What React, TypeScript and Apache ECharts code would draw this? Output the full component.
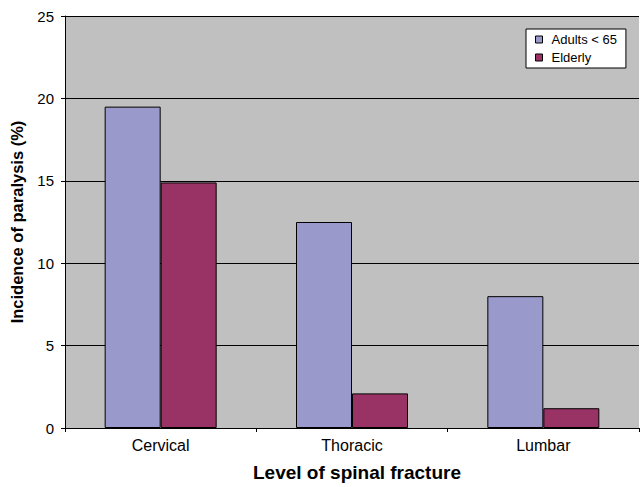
import React, { useEffect, useRef } from "react";
import * as echarts from "echarts";

const categories = ["Cervical", "Thoracic", "Lumbar"];
const adults = [19.5, 12.5, 8.0];
const elderly = [14.9, 2.1, 1.2];
const seriesNames = ["Adults < 65", "Elderly"];

export default function App() {
  const ref = useRef<HTMLDivElement>(null);
  useEffect(() => {
    const chart = echarts.init(ref.current!, null, { renderer: "svg" });
    const font = "'Liberation Sans', Arial, sans-serif";
    chart.setOption({
      animation: false,
      textStyle: { fontFamily: font },
      grid: { left: 65, right: 1, top: 16, bottom: 53, containLabel: false, show: true, backgroundColor: "#c0c0c0", borderWidth: 0 },
      legend: {
        data: seriesNames,
        orient: "vertical",
        left: 526,
        top: 29,
        itemWidth: 7,
        itemHeight: 7,
        itemGap: 5,
        padding: [4, 9, 4, 9],
        backgroundColor: "#ffffff",
        borderColor: "#000000",
        borderWidth: 1,
        borderRadius: 0,
        textStyle: { fontSize: 13, color: "#000", fontFamily: font, padding: [0, 0, 0, 4] },
        icon: "rect",
        itemStyle: { borderColor: "#000", borderWidth: 1 },
      },
      xAxis: {
        type: "category",
        data: categories,
        name: "Level of spinal fracture",
        nameLocation: "middle",
        nameGap: 35,
        nameTextStyle: { fontSize: 19, fontWeight: "bold", color: "#000", fontFamily: font, padding: [0, 0, 0, 10] },
        axisLine: { lineStyle: { color: "#000", width: 1 } },
        axisTick: { show: true, length: 4, lineStyle: { color: "#000" } },
        axisLabel: { fontSize: 16, color: "#000", margin: 9, fontFamily: font },
      },
      yAxis: {
        type: "value",
        min: 0,
        max: 25,
        interval: 5,
        name: "Incidence of paralysis (%)",
        nameLocation: "middle",
        nameGap: 40,
        nameTextStyle: { fontSize: 16.5, fontWeight: "bold", color: "#000", fontFamily: font },
        axisLine: { show: true, lineStyle: { color: "#000", width: 1 } },
        axisTick: { show: true, length: 4, lineStyle: { color: "#000" } },
        axisLabel: { fontSize: 15, color: "#000", margin: 11, fontFamily: font },
        splitLine: { show: true, lineStyle: { color: "#000", width: 1 } },
      },
      series: [
        {
          name: seriesNames[0],
          type: "bar",
          data: adults,
          barWidth: 56,
          barGap: "0%",
          itemStyle: { color: "#9999cc", borderColor: "#000", borderWidth: 1 },
        },
        {
          name: seriesNames[1],
          type: "bar",
          data: elderly,
          barWidth: 56,
          barGap: "0%",
          itemStyle: { color: "#993366", borderColor: "#000", borderWidth: 1 },
        },
      ],
    });
    return () => chart.dispose();
  }, []);
  return <div ref={ref} style={{ width: 640, height: 487, position: "absolute", left: 0, top: 0 }} />;
}
